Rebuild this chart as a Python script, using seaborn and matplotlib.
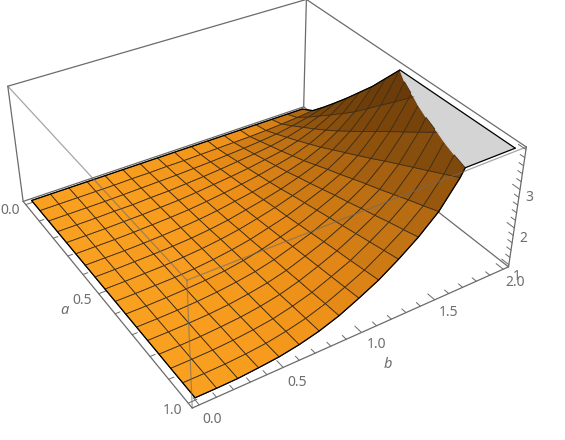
import numpy as np
import matplotlib
matplotlib.use("Agg")
import matplotlib.pyplot as plt
import seaborn as sns
from mpl_toolkits.mplot3d import proj3d
from mpl_toolkits.mplot3d.art3d import Poly3DCollection

a_vals = [i / 16 for i in range(17)]
b_vals = [j / 8 for j in range(17)]
z_clip = 4.0

z_b00 = [1.00]*17
z_b01 = [1.00]*17
z_b02 = [1.00,1.00,1.00,1.00,1.00,1.00,1.00,1.01,1.01,1.01,1.01,1.01,1.01,1.01,1.01,1.01,1.01]
z_b03 = [1.00,1.00,1.00,1.01,1.01,1.01,1.01,1.02,1.02,1.02,1.03,1.03,1.03,1.04,1.04,1.04,1.05]
z_b04 = [1.00,1.00,1.01,1.01,1.02,1.03,1.03,1.04,1.05,1.05,1.06,1.07,1.07,1.08,1.09,1.09,1.10]
z_b05 = [1.00,1.01,1.02,1.03,1.04,1.05,1.06,1.07,1.09,1.10,1.11,1.13,1.14,1.15,1.16,1.18,1.19]
z_b06 = [1.00,1.01,1.03,1.04,1.06,1.08,1.10,1.12,1.15,1.17,1.19,1.21,1.23,1.25,1.28,1.30,1.32]
z_b07 = [1.00,1.02,1.04,1.07,1.10,1.13,1.16,1.19,1.23,1.26,1.30,1.33,1.36,1.40,1.43,1.47,1.50]
z_b08 = [1.00,1.02,1.06,1.10,1.15,1.19,1.24,1.29,1.34,1.39,1.44,1.49,1.54,1.59,1.64,1.69,1.74]
z_b09 = [1.00,1.03,1.08,1.14,1.20,1.26,1.32,1.39,1.46,1.52,1.59,1.66,1.73,1.80,1.86,1.93,2.00]
z_b10 = [1.00,1.04,1.11,1.19,1.26,1.34,1.42,1.51,1.61,1.70,1.79,1.88,1.97,2.06,2.15,2.24,2.33]
z_b11 = [1.00,1.05,1.14,1.24,1.34,1.44,1.54,1.66,1.77,1.89,2.01,2.12,2.24,2.35,2.47,2.58,2.70]
z_b12 = [1.00,1.06,1.18,1.30,1.42,1.55,1.68,1.83,1.98,2.12,2.27,2.42,2.56,2.71,2.86,3.00,3.15]
z_b13 = [1.00,1.08,1.23,1.39,1.55,1.72,1.89,2.08,2.27,2.46,2.65,2.85,3.04,3.23,3.42,3.61,3.80]
z_b14 = [1.00,1.11,1.31,1.52,1.73,1.95,2.18,2.43,2.68,2.94,3.19,3.44,3.69,3.94,4.20,4.45,4.70]
z_b15 = [1.00,1.15,1.41,1.69,1.97,2.26,2.56,2.89,3.23,3.56,3.90,4.23,4.56,4.90,5.23,5.57,5.90]
z_b16 = [1.00,1.20,1.55,1.92,2.30,2.70,3.10,3.55,4.00,4.45,4.90,5.35,5.80,6.25,6.70,7.15,7.60]
z_rows = [z_b00,z_b01,z_b02,z_b03,z_b04,z_b05,z_b06,z_b07,z_b08,z_b09,z_b10,z_b11,z_b12,z_b13,z_b14,z_b15,z_b16]

a_labels = [("0.0", 10, 211), ("0.5", 82, 301), ("1.0", 173, 410)]
b_labels = [("0.0", 212, 419), ("0.5", 297, 382), ("1.0", 377, 345), ("1.5", 449, 313), ("2.0", 515, 282)]
z_labels = [("1", 517, 276), ("2", 523, 238), ("3", 529, 197)]

a_lim = (-0.02, 1.02)
b_lim = (-0.04, 2.04)
z_lim = (0.94, 4.06)

sns.set_style("white")
plt.rcParams['font.family'] = ['Noto Sans', 'DejaVu Sans']
W, H = 565, 440
fig = plt.figure(figsize=(W/100, H/100), dpi=100)
ax = fig.add_subplot(projection='3d', computed_zorder=False)
ax.set_axis_off()
ax.set_xlim(*a_lim); ax.set_ylim(*b_lim); ax.set_zlim(*z_lim)
ax.view_init(elev=34.53, azim=-32.41)
ax.set_proj_type('persp', focal_length=0.439)
ax.set_box_aspect((1, 1.001, 0.393))

# scale and offset so the projected box lands on the reference's box corners
corners = [
    (a_lim[0], b_lim[0], z_lim[0], 23, 201), (a_lim[1], b_lim[0], z_lim[0], 192, 408),
    (a_lim[1], b_lim[1], z_lim[0], 508, 267), (a_lim[0], b_lim[1], z_lim[0], 303, 107),
    (a_lim[0], b_lim[0], z_lim[1], 8, 87), (a_lim[1], b_lim[0], z_lim[1], 187, 280),
    (a_lim[1], b_lim[1], z_lim[1], 527, 147), (a_lim[0], b_lim[1], z_lim[1], 307, -1),
]
cx, cy, cz, px, py = [np.array(v, float) for v in zip(*corners)]
py_up = H - py
X, Y, _ = proj3d.proj_transform(cx, cy, cz, ax.get_proj())
X = np.asarray(X); Y = np.asarray(Y)
s = (((X-X.mean())*(px-px.mean())).sum() + ((Y-Y.mean())*(py_up-py_up.mean())).sum()) / (((X-X.mean())**2).sum() + ((Y-Y.mean())**2).sum())
ox = px.mean() - s*X.mean(); oy = py_up.mean() - s*Y.mean()
S0 = 400
ax.set_position([0, 0, S0/W, S0/H]); ax.apply_aspect()
t0 = ax.transData.transform((0, 0)); t1 = ax.transData.transform((1, 1))
S = S0 * s / (t1[0]-t0[0])
ax.set_position([0, 0, S/W, S/H]); ax.apply_aspect()
t0 = ax.transData.transform((0, 0))
ax.set_position([(ox-t0[0])/W, (oy-t0[1])/H, S/W, S/H]); ax.apply_aspect()

A, B = np.meshgrid(a_vals, b_vals)
Z = np.array(z_rows)
za = (np.diff(Z, axis=1)[:-1, :] + np.diff(Z, axis=1)[1:, :]) / 2 * 16
zb = (np.diff(Z, axis=0)[:, :-1] + np.diff(Z, axis=0)[:, 1:]) / 2 * 8
grad = np.sqrt(za**2 + (0.5*zb)**2)
t = 1 - np.exp(-grad/2.4)
cmap = sns.blend_palette(["#FAA020", "#EC8E18", "#B86C12", "#5E3408"], as_cmap=True)
MESH = (0.26, 0.18, 0.08, 1)
GREYF = (0.83, 0.83, 0.83, 1)

def clip_poly(pts, above):
    out = []
    n = len(pts)
    for k in range(n):
        p, q = pts[k], pts[(k+1) % n]
        pin = p[2] >= z_clip if above else p[2] <= z_clip
        qin = q[2] >= z_clip if above else q[2] <= z_clip
        if pin:
            out.append((p[0], p[1], z_clip if above else p[2]))
        if pin != qin:
            u = (z_clip - p[2]) / (q[2] - p[2])
            out.append((p[0]+u*(q[0]-p[0]), p[1]+u*(q[1]-p[1]), z_clip))
    return out

polys, fcs, ecs = [], [], []
for j in range(16):
    for i in range(16):
        quad = [(A[j, i], B[j, i], Z[j, i]), (A[j, i+1], B[j, i+1], Z[j, i+1]),
                (A[j+1, i+1], B[j+1, i+1], Z[j+1, i+1]), (A[j+1, i], B[j+1, i], Z[j+1, i])]
        low = clip_poly(quad, False)
        high = clip_poly(quad, True)
        if len(low) >= 3:
            polys.append(low); fcs.append(cmap(t[j, i])); ecs.append(MESH)
        if len(high) >= 3:
            polys.append(high); fcs.append(GREYF); ecs.append(GREYF)

def rim(xs, ys, zs):
    rx, ry, rz = [xs[0]], [ys[0]], [min(zs[0], z_clip)]
    for k in range(len(xs)-1):
        if (zs[k]-z_clip)*(zs[k+1]-z_clip) < 0:
            u = (z_clip-zs[k])/(zs[k+1]-zs[k])
            rx.append(xs[k]+u*(xs[k+1]-xs[k])); ry.append(ys[k]+u*(ys[k+1]-ys[k])); rz.append(z_clip)
        rx.append(xs[k+1]); ry.append(ys[k+1]); rz.append(min(zs[k+1], z_clip))
    return rx, ry, rz

BOX = (0.42, 0.42, 0.42)
def edge(p0, p1, z, alpha=1.0, lw=0.9):
    ax.plot([p0[0], p1[0]], [p0[1], p1[1]], [p0[2], p1[2]], color=BOX, lw=lw, zorder=z, alpha=alpha, clip_on=False)

al, ah = a_lim; bl, bh = b_lim; zl, zh = z_lim
for p0, p1 in [((al,bl,zl),(ah,bl,zl)), ((ah,bl,zl),(ah,bh,zl)), ((ah,bh,zl),(al,bh,zl)), ((al,bh,zl),(al,bl,zl)),
               ((al,bl,zl),(al,bl,zh)), ((al,bh,zl),(al,bh,zh)), ((ah,bh,zl),(ah,bh,zh)),
               ((al,bl,zh),(al,bh,zh)), ((al,bh,zh),(ah,bh,zh))]:
    edge(p0, p1, 1)

surf = Poly3DCollection(polys, facecolors=fcs, edgecolors=ecs, linewidths=0.6, zorder=2)
surf.set_clip_on(False)
ax.add_collection3d(surf, autolim=False)

for xs, ys, zs in [(A[:, 0], B[:, 0], Z[:, 0]), (A[:, -1], B[:, -1], Z[:, -1]), (A[0], B[0], Z[0]), (A[-1], B[-1], Z[-1])]:
    rx, ry, rz = rim(xs, ys, zs)
    ax.plot(rx, ry, rz, color='black', lw=0.9, zorder=3, clip_on=False)

for p0, p1 in [((ah,bl,zl),(ah,bl,zh)), ((al,bl,zh),(ah,bl,zh)), ((ah,bl,zh),(ah,bh,zh))]:
    edge(p0, p1, 4, alpha=0.6)

for i in range(11):
    v = i/10; l = 0.05 if i % 5 == 0 else 0.03
    edge((v, bl, zl), (v, bl+l, zl), 1, lw=0.7)
for i in range(21):
    v = i/10; l = 0.03 if i % 5 == 0 else 0.018
    edge((ah, v, zl), (ah-l, v, zl), 1, lw=0.7)
for i in range(5, 21):
    v = i/5
    if v > zh: break
    l = 0.03 if i % 5 == 0 else 0.018
    edge((ah, bh, v), (ah-l, bh, v), 1, lw=0.7)

GREY = '#6e6e6e'
for txt, x, y in a_labels + b_labels + z_labels:
    fig.text(x/W, 1-y/H, txt, color=GREY, fontsize=10, ha='center', va='center')
fig.text(64/W, 1-310/H, "a", color=GREY, fontsize=10.5, style='italic', ha='center', va='center')
fig.text(388/W, 1-364/H, "b", color=GREY, fontsize=10.5, style='italic', ha='center', va='center')
fig.savefig("out.png", dpi=100)
